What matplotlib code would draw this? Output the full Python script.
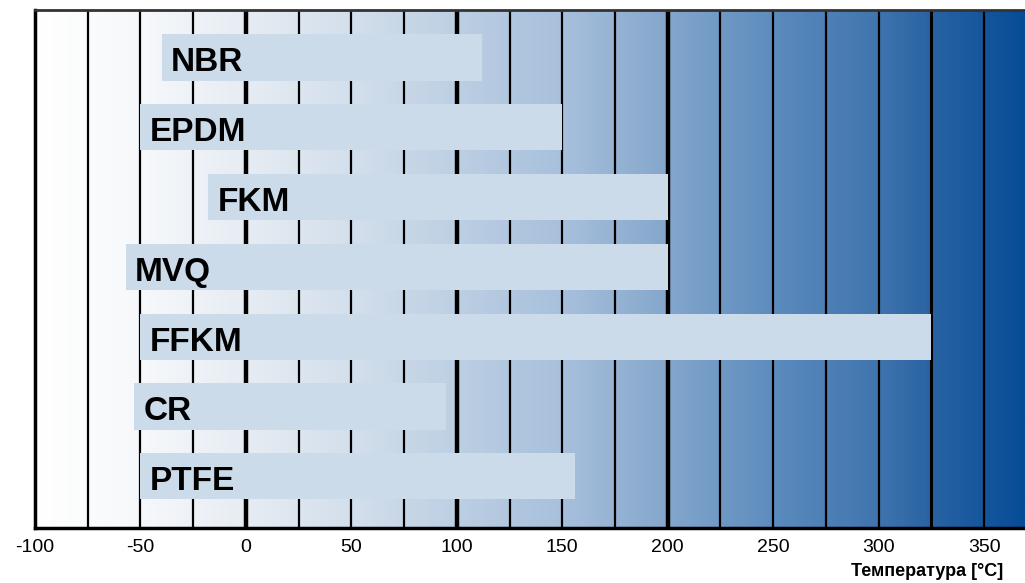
import numpy as np
import matplotlib
matplotlib.use("Agg")
import matplotlib.pyplot as plt
from matplotlib.colors import LinearSegmentedColormap

plt.rcParams['font.family'] = ['Liberation Sans Narrow', 'Liberation Sans', 'DejaVu Sans']

materials = ["NBR", "EPDM", "FKM", "MVQ", "FFKM", "CR", "PTFE"]
t_min = [-40, -50, -18, -57, -50, -53, -50]
t_max = [112, 150, 200, 200, 325, 95, 156]

ticks = np.arange(-100, 351, 50)
grid_x = np.arange(-75, 351, 25)
thick_x = [0, 100, 200]

# background gradient anchors (temperature, colour)
grad_pos = [-100, -50, 0, 50, 100, 150, 200, 250, 300, 325, 369.4]
grad_col = ["#ffffff", "#f6f8fb", "#e6ecf3", "#d3dfec", "#bccfe3", "#a8c0dc",
            "#84a7cc", "#5d8cbe", "#4075ae", "#2a63a4", "#064d97"]

x0, x1 = grad_pos[0], grad_pos[-1]

fig = plt.figure(figsize=(10.25, 5.83), dpi=100)
ax = fig.add_axes([35/1025, 1-528/583, 1-35/1025, 518/583])

cmap = LinearSegmentedColormap.from_list(
    "bg", [((p - x0) / (x1 - x0), c) for p, c in zip(grad_pos, grad_col)])
ax.imshow(np.linspace(0, 1, 600).reshape(1, -1), cmap=cmap, aspect='auto',
          extent=[x0, x1, 6.74, -0.68], zorder=0)

for gx in grid_x:
    lw = 3.2 if gx in thick_x else (2.2 if gx == 325 else 1.6)
    ax.axvline(gx, color='black', lw=lw, zorder=1)

y = np.arange(len(materials))
ax.barh(y, np.array(t_max) - np.array(t_min), left=t_min, height=0.66,
        color='#cbdbe9', zorder=2)
for i, name in enumerate(materials):
    ax.text(t_min[i] + 4.5, i + 0.2, name, fontsize=24, fontweight='bold',
            va='baseline', ha='left', zorder=3)

ax.set_xlim(x0, x1)
ax.set_ylim(6.74, -0.68)
ax.set_yticks([])
ax.set_xticks(ticks)
ax.set_xticklabels([str(t) for t in ticks], fontsize=14)
ax.tick_params(axis='x', length=0, pad=8)

ax.spines['right'].set_visible(False)
ax.spines['left'].set_linewidth(2.5)
ax.spines['bottom'].set_linewidth(2.5)
ax.spines['top'].set_linewidth(2)
ax.spines['top'].set_color('#333333')

fig.text(1003/1025, 1-572/583, "Температура [°C]", fontsize=13,
         fontweight='bold', ha='right', va='center')

fig.savefig("out.png", dpi=100)
